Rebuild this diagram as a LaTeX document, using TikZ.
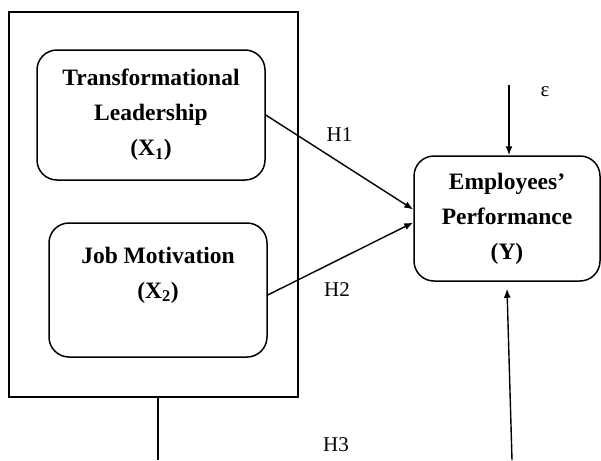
\documentclass[tikz,border=0pt]{standalone}
\usepackage{fontspec}
\setmainfont{Liberation Serif}
\usetikzlibrary{positioning, arrows.meta}

\begin{document}
\begin{tikzpicture}[
    x = 1pt, y = -1pt, > = {Latex[length = 9pt, width = 7pt]},
    construct/.style = {rectangle, rounded corners = 20pt, draw, line width = 1.5pt, align = center,
                        inner sep = 0pt, font = \fontsize{23.5}{35}\selectfont\bfseries},
    frame/.style = {rectangle, draw, line width = 1.5pt, inner sep = 0pt},
    path/.style = {->, line width = 1.4pt},
    hyp/.style = {inner sep = 0pt, font = \fontsize{21}{25}\selectfont},
    ]
    \useasboundingbox (0,0) rectangle (601,460);

    % independent variables inside one frame
    \node [frame, minimum width = 289pt, minimum height = 385pt] (block) at (153.5,204.5) {};
    \node [construct, minimum width = 228pt, minimum height = 130pt] (x1) at (151,115)
        {Transformational\\Leadership\\(X\textsubscript{1})};
    \node [construct, minimum width = 218pt, minimum height = 134pt] (x2) at (158,290)
        {Job Motivation\\(X\textsubscript{2})\\ \mbox{}};

    % dependent variable
    \node [construct, minimum width = 186pt, minimum height = 125pt] (y) at (507,218.5)
        {Employees’\\Performance\\(Y)};

    \node [hyp] (h1) at (339.5,135) {H1};
    \node [hyp] (h2) at (337,290) {H2};
    \node [hyp] (h3) at (336,445) {H3};
    \node [hyp] (eps) at (545,92) {ε};

    \coordinate (etop) at (509,85);
    \coordinate (ybot) at (512,460);
    \coordinate (fbot) at (158,460);

    % draw paths
    \draw [path] (x1.east) -- ([yshift = 9pt]y.west);
    \draw [path] ([yshift = -5pt]x2.east) -- ([yshift = -4pt]y.west);
    \draw [path] (etop) -- (etop |- y.north);
    \draw [path] (ybot) -- ([yshift = -7pt]y.south);
    \draw [line width = 1.5pt] (fbot |- block.south) -- (fbot);
\end{tikzpicture}
\end{document}
